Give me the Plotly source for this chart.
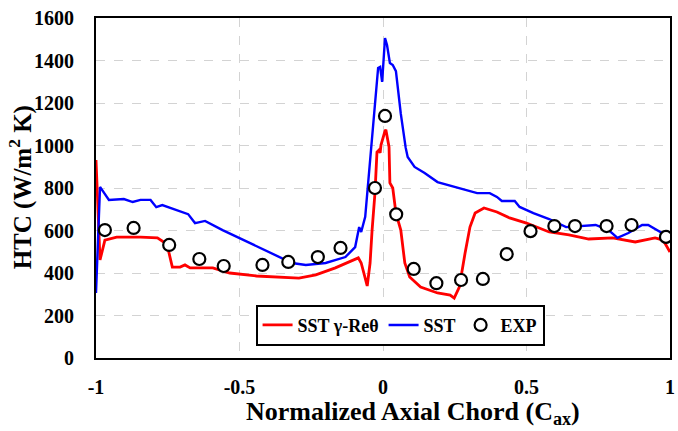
import plotly.graph_objects as go

# SST gamma-Re theta (red)
red_x = [-1.0, -0.986, -0.969, -0.928, -0.845, -0.786, -0.759, -0.748, -0.734, -0.707, -0.69, -0.672,
         -0.593, -0.534, -0.441, -0.293, -0.234, -0.166, -0.086, -0.076, -0.055, -0.045, -0.038, -0.028,
         -0.021, -0.014, -0.01, -0.007, 0.007, 0.01, 0.021, 0.024, 0.034, 0.045, 0.062, 0.076, 0.093,
         0.131, 0.19, 0.234, 0.248, 0.266, 0.286, 0.303, 0.321, 0.352, 0.397, 0.441, 0.5, 0.579, 0.648,
         0.717, 0.8, 0.879, 0.948, 0.976, 1.0]
red_y = [932, 461, 555, 569, 569, 565, 541, 508, 428, 428, 438, 424,
         424, 400, 386, 376, 391, 424, 471, 447, 339, 447, 602, 776,
         969, 979, 965, 1002, 1069, 1074, 993, 824, 800, 682, 602, 447, 381,
         334, 306, 296, 282, 334, 494, 616, 682, 706, 687, 659, 635, 593, 579,
         560, 565, 546, 565, 555, 499]

# SST (blue)
blue_x = [-1.0, -0.986, -0.955, -0.903, -0.872, -0.845, -0.81, -0.79, -0.769, -0.717, -0.679, -0.655,
          -0.62, -0.559, -0.5, -0.431, -0.397, -0.317, -0.269, -0.2, -0.131, -0.097, -0.083, -0.076,
          -0.062, -0.055, -0.041, -0.028, -0.017, -0.01, -0.003, 0.007, 0.014, 0.024, 0.034, 0.045,
          0.062, 0.079, 0.086, 0.11, 0.145, 0.19, 0.248, 0.328, 0.372, 0.397, 0.414, 0.459, 0.476, 0.524,
          0.579, 0.638, 0.741, 0.786, 0.817, 0.855, 0.903, 0.924, 0.972, 1.0]
blue_y = [306, 805, 744, 748, 734, 744, 744, 710, 720, 696, 677, 635,
          645, 602, 565, 522, 499, 447, 438, 447, 475, 522, 616, 593,
          664, 776, 965, 1200, 1365, 1370, 1299, 1506, 1473, 1388, 1379, 1350,
          1150, 990, 946, 899, 871, 828, 805, 776, 776, 758, 739, 739, 711, 682,
          654, 616, 626, 602, 565, 588, 626, 626, 588, 555]

# Experiment
exp_x = [-0.969, -0.869, -0.745, -0.64, -0.555, -0.42, -0.33, -0.227, -0.148, -0.028, 0.007, 0.046,
         0.107, 0.186, 0.272, 0.348, 0.431, 0.514, 0.597, 0.669, 0.779, 0.866, 0.986]
exp_y = [602, 612, 532, 466, 433, 438, 452, 475, 518, 800, 1139, 676,
         419, 352, 367, 372, 489, 597, 621, 621, 621, 626, 570]

x_ticks = [-1, -0.5, 0, 0.5, 1]
x_labels = ["-1", "-0.5", "0", "0.5", "1"]
y_ticks = [0, 200, 400, 600, 800, 1000, 1200, 1400, 1600]

FONT = "Liberation Serif"

fig = go.Figure()
fig.add_trace(go.Scatter(x=red_x, y=red_y, mode="lines", name="SST γ-Reθ",
                         line=dict(color="#ff0000", width=2.8)))
fig.add_trace(go.Scatter(x=blue_x, y=blue_y, mode="lines", name="SST",
                         line=dict(color="#0000ff", width=2.4)))
fig.add_trace(go.Scatter(x=exp_x, y=exp_y, mode="markers", name="EXP",
                         marker=dict(symbol="circle", size=12, color="white",
                                     line=dict(color="black", width=2.2))))

fig.update_layout(
    width=678, height=431,
    margin=dict(l=96, r=3, t=18, b=73),
    plot_bgcolor="white", paper_bgcolor="white",
    font=dict(family=FONT, color="black", size=19, weight="bold"),
    showlegend=True,
    legend=dict(orientation="h", x=0.278, y=0.036, xanchor="left", yanchor="bottom",
                bgcolor="white", bordercolor="black", borderwidth=2,
                font=dict(family=FONT, size=18, weight="bold", color="black"),
                itemwidth=30, tracegroupgap=0),
    xaxis=dict(range=[-1, 1], tickvals=x_ticks, ticktext=x_labels,
               showgrid=True, gridcolor="#d3d3d3", griddash="dash", gridwidth=1,
               showline=True, linecolor="black", linewidth=2, mirror=True,
               ticks="", zeroline=False, ticklabelstandoff=10,
               tickfont=dict(family=FONT, size=20, weight="bold")),
    yaxis=dict(range=[0, 1600], tickvals=y_ticks,
               showgrid=True, gridcolor="#d3d3d3", griddash="dash", gridwidth=1,
               showline=True, linecolor="black", linewidth=2, mirror=True,
               ticks="", zeroline=False, ticklabelstandoff=16,
               tickfont=dict(family=FONT, size=20, weight="bold")),
    annotations=[
        dict(text="Normalized Axial Chord (C<sub>ax</sub>)", xref="paper", yref="paper",
             x=0.553, y=-0.163, xanchor="center", yanchor="middle", showarrow=False,
             font=dict(family=FONT, size=26, weight="bold", color="black")),
        dict(text="HTC (W/m<sup>2</sup> K)", xref="paper", yref="paper",
             x=-0.13, y=0.503, xanchor="center", yanchor="middle", showarrow=False,
             textangle=-90,
             font=dict(family=FONT, size=25, weight="bold", color="black")),
    ],
)

fig.write_html("out.html")
